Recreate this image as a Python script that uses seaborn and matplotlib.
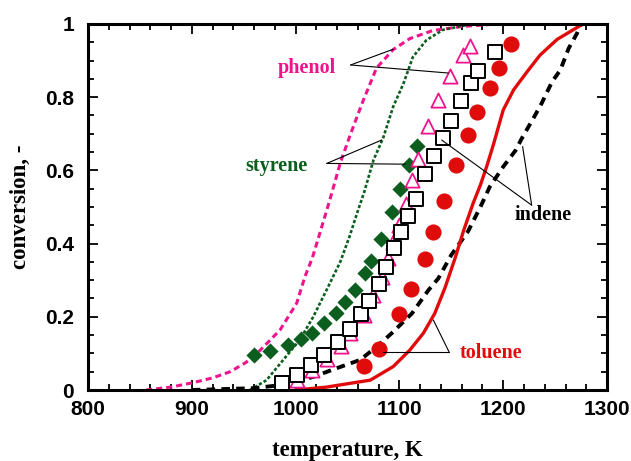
"""
Conversion vs temperature for toluene, indene, styrene and phenol
(model curves + experimental points).
"""

import pandas as pd
import matplotlib.pyplot as plt
from matplotlib.ticker import MultipleLocator, FuncFormatter
import seaborn as sns

# ── Data (T in K, conversion 0-1) ───────────────────────────────────────────
# model curves
phenol_T = [856, 880, 901, 920, 937, 952, 966, 985, 1001, 1009, 1016, 1023.5,
            1033, 1043, 1053, 1065, 1078, 1094, 1110, 1132, 1160, 1185]
phenol_X = [0.0, 0.008, 0.02, 0.033, 0.05, 0.075, 0.109, 0.164, 0.237, 0.31, 0.36,
            0.43, 0.52, 0.62, 0.70, 0.79, 0.88, 0.93, 0.96, 0.982, 0.993, 0.998]

styrene_T = [956, 972, 988, 1004, 1017, 1031, 1043, 1052, 1060, 1066, 1075,
             1084.5, 1094, 1104, 1113, 1126, 1142, 1165]
styrene_X = [0.0, 0.027, 0.082, 0.137, 0.2, 0.28, 0.35, 0.42, 0.49, 0.54, 0.628,
             0.69, 0.774, 0.838, 0.91, 0.956, 0.984, 0.997]

indene_T = [900, 960, 990, 1017, 1040, 1062, 1078, 1092.5, 1112, 1128, 1137.5,
            1150, 1166, 1178, 1187, 1200, 1212, 1218, 1229, 1237, 1247, 1255,
            1263, 1271, 1275]
indene_X = [0.0, 0.005, 0.015, 0.036, 0.06, 0.082, 0.118, 0.155, 0.209, 0.273,
            0.305, 0.369, 0.433, 0.5, 0.555, 0.61, 0.655, 0.688, 0.742, 0.783,
            0.842, 0.874, 0.933, 0.974, 1.0]

toluene_T = [1000, 1030, 1052, 1072, 1094, 1110, 1123, 1134, 1144, 1153.6, 1162,
             1171, 1178, 1184, 1190.5, 1200, 1210, 1222.6, 1235.5, 1252, 1265,
             1275, 1277]
toluene_X = [0.0, 0.008, 0.018, 0.027, 0.064, 0.109, 0.155, 0.209, 0.28, 0.36,
             0.437, 0.51, 0.56, 0.61, 0.67, 0.765, 0.82, 0.868, 0.915, 0.958,
             0.98, 0.997, 1.0]

# experimental points
tol_exp_T = [1066, 1080, 1100, 1111.5, 1125, 1132, 1143, 1154.5, 1166, 1175,
             1187, 1196, 1207.5]
tol_exp_X = [0.065, 0.111, 0.207, 0.276, 0.357, 0.433, 0.517, 0.615, 0.697, 0.76,
             0.824, 0.879, 0.945]

ind_exp_T = [986.6, 1001, 1014.8, 1027.7, 1041, 1052.4, 1062.7, 1071, 1080,
             1086.8, 1095, 1101.5, 1108.6, 1115.7, 1124.7, 1133.3, 1141.7,
             1149.4, 1159.3, 1169, 1176, 1192]
ind_exp_X = [0.018, 0.041, 0.068, 0.097, 0.132, 0.167, 0.209, 0.244, 0.289,
             0.337, 0.389, 0.433, 0.476, 0.522, 0.59, 0.639, 0.688, 0.736, 0.79,
             0.84, 0.872, 0.924]

sty_exp_T = [960, 975, 993, 1005, 1015.5, 1027.7, 1039, 1047.6, 1057, 1066.5,
             1072.5, 1082, 1093, 1101, 1109.5, 1116.6]
sty_exp_X = [0.095, 0.107, 0.122, 0.14, 0.157, 0.182, 0.21, 0.24, 0.272, 0.32,
             0.352, 0.412, 0.487, 0.55, 0.616, 0.667]

phe_exp_T = [1001, 1016, 1030, 1044, 1052, 1066, 1075, 1083, 1089, 1094,
             1100, 1106, 1112.5, 1118, 1128, 1137.5, 1149, 1161, 1168]
phe_exp_X = [0.027, 0.054, 0.084, 0.12, 0.156, 0.205, 0.26, 0.31, 0.36, 0.405,
             0.452, 0.508, 0.574, 0.63, 0.721, 0.792, 0.859, 0.915, 0.94]

RED, PINK, GREEN = "#e00b0b", "#f0148c", "#0b5e1e"

sns.set_theme(style="ticks")
plt.rcParams["font.family"] = ["Liberation Sans", "DejaVu Sans"]
plt.rcParams.update({"text.color": "black", "axes.labelcolor": "black",
                     "xtick.color": "black", "ytick.color": "black"})

fig = plt.figure(figsize=(6.31, 4.61), dpi=100)
ax = fig.add_axes([0.1395, 0.154, 0.8225, 0.794])

# ── model curves ────────────────────────────────────────────────────────────
curves = [
    (phenol_T, phenol_X, PINK, 2.2, (0, (2.0, 1.3))),
    (styrene_T, styrene_X, GREEN, 1.9, (0, (1.2, 0.8))),
    (indene_T, indene_X, "black", 2.8, (0, (2.2, 1.6))),
    (toluene_T, toluene_X, RED, 2.4, "-"),
]
for T, X, col, lw, ls in curves:
    sns.lineplot(x=T, y=X, ax=ax, color=col, linewidth=lw, sort=False,
                 estimator=None, zorder=2)
    ax.lines[-1].set_linestyle(ls)

# ── experimental points ─────────────────────────────────────────────────────
sns.scatterplot(x=sty_exp_T, y=sty_exp_X, ax=ax, marker="D", s=68,
                color=GREEN, linewidth=0, zorder=3)
sns.scatterplot(x=phe_exp_T, y=phe_exp_X, ax=ax, marker="^", s=105,
                color="white", edgecolor=PINK, linewidth=1.3, zorder=4)
sns.scatterplot(x=ind_exp_T, y=ind_exp_X, ax=ax, marker="s", s=88,
                color="white", edgecolor="black", linewidth=1.4, zorder=5)
sns.scatterplot(x=tol_exp_T, y=tol_exp_X, ax=ax, marker="o", s=135,
                color=RED, linewidth=0, zorder=5)

# ── labels with leader lines ────────────────────────────────────────────────
labels = [
    ("phenol", PINK, (1010.7, 0.88), (1053, 0.888), [(1094, 0.931), (1147, 0.866)]),
    ("styrene", GREEN, (981.6, 0.612), (1030, 0.619), [(1083, 0.683), (1105.4, 0.617)]),
    ("indene", "black", (1238.6, 0.478), (1227.4, 0.505), [(1218.7, 0.665), (1140.7, 0.683)]),
    ("toluene", RED, (1188.5, 0.10), (1148, 0.103), [(1084.5, 0.103), (1132.7, 0.191)]),
]
for name, col, pos, origin, targets in labels:
    ax.text(*pos, name, color=col, fontsize=14.5, fontweight="bold",
            family="Liberation Serif", ha="center", va="center", zorder=6)
    for tx, ty in targets:
        ax.plot([origin[0], tx], [origin[1], ty], color="black", lw=0.8, zorder=6)

# ── axes styling ────────────────────────────────────────────────────────────
ax.set_xlim(800, 1300)
ax.set_ylim(0, 1)
ax.xaxis.set_major_locator(MultipleLocator(100))
ax.xaxis.set_minor_locator(MultipleLocator(20))
ax.yaxis.set_major_locator(MultipleLocator(0.2))
ax.yaxis.set_minor_locator(MultipleLocator(0.05))
ax.yaxis.set_major_formatter(FuncFormatter(lambda v, p: f"{v:g}"))

ax.tick_params(which="both", direction="in", top=True, right=True, width=1.3,
               color="black", labelcolor="black")
ax.tick_params(which="major", length=7)
ax.tick_params(which="minor", length=4)
ax.tick_params(axis="x", which="major", pad=7)
ax.tick_params(axis="y", which="major", pad=10)
for lab in ax.get_xticklabels() + ax.get_yticklabels():
    lab.set_fontsize(15)
    lab.set_fontweight("bold")
for sp in ax.spines.values():
    sp.set_linewidth(2.2)
    sp.set_color("black")

ax.set_xlabel("temperature, K", fontsize=16.5, fontweight="bold",
              family="Liberation Serif", labelpad=15, color="black")
ax.set_ylabel("conversion, -", fontsize=16.5, fontweight="bold",
              family="Liberation Serif", labelpad=10, color="black")

fig.savefig("out.png", dpi=100)
